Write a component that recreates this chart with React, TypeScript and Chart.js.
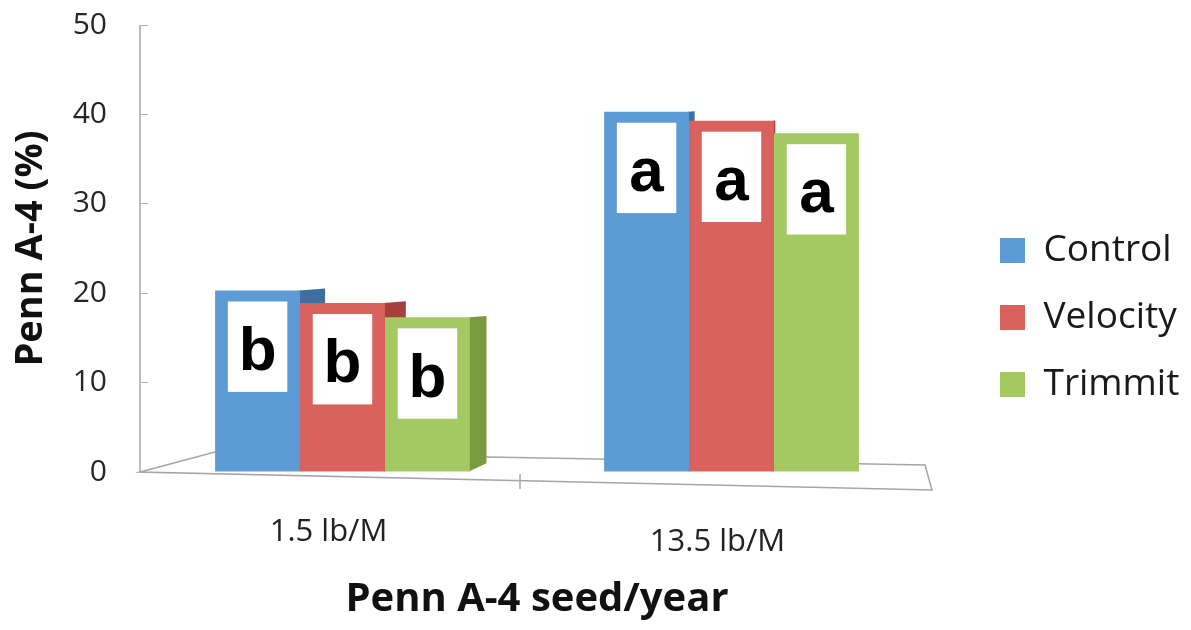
import React, { useEffect, useRef } from "react";
import { Chart, registerables } from "chart.js";

Chart.register(...registerables);

const categories = ["1.5 lb/M", "13.5 lb/M"];
const seriesNames = ["Control", "Velocity", "Trimmit"];
const controlValues = [20.3, 40.3];
const velocityValues = [18.9, 39.3];
const trimmitValues = [17.3, 37.9];
const controlLetters = ["b", "a"];
const velocityLetters = ["b", "a"];
const trimmitLetters = ["b", "a"];
const yMin = 0;
const yMax = 50;
const yStep = 10;
const xTitle = "Penn A-4 seed/year";
const yTitle = "Penn A-4 (%)";

const frontColors = ["#5D9BD5", "#D9625E", "#A4C862"];
const sideColors = ["#3F6FA0", "#A5403C", "#7A9A3E"];

const W = 1191;
const H = 630;

const depthPlugin = {
  id: "depth3d",
  beforeDatasetsDraw(chart: any) {
    const { ctx, chartArea: a, scales } = chart;
    const y = scales.y;
    const x = scales.x;
    const y0 = y.getPixelForValue(0);
    const yTop = y.getPixelForValue(yMax);
    ctx.save();
    ctx.strokeStyle = "#a6a6a6";
    ctx.lineWidth = 1.5;
    ctx.beginPath();
    ctx.moveTo(a.left - 8, yTop);
    ctx.lineTo(a.left - 8, y0);
    ctx.stroke();
    ctx.beginPath();
    ctx.moveTo(a.left - 8, y0);
    ctx.lineTo(a.left + 67, y0 - 20);
    ctx.lineTo(a.right - 1, y0 - 7);
    ctx.lineTo(a.right + 6, y0 + 18);
    ctx.closePath();
    ctx.stroke();
    const mx = (x.getPixelForValue(0) + x.getPixelForValue(1)) / 2 - 17;
    ctx.beginPath();
    ctx.moveTo(mx, y0 + 2);
    ctx.lineTo(mx, y0 + 17);
    ctx.stroke();
    const vp = a.left + 0.84 * (a.right - a.left);
    chart.data.datasets.forEach((ds: any, di: number) => {
      const meta = chart.getDatasetMeta(di);
      meta.data.forEach((bar: any) => {
        const xR = bar.x + bar.width / 2;
        const dx = (vp - xR) * 0.05;
        if (dx <= 0.5) return;
        ctx.fillStyle = sideColors[di];
        ctx.beginPath();
        ctx.moveTo(xR - 1, bar.y);
        ctx.lineTo(xR + dx, bar.y - dx * 0.08);
        ctx.lineTo(xR + dx, bar.base - dx * 0.5);
        ctx.lineTo(xR - 1, bar.base);
        ctx.closePath();
        ctx.fill();
      });
    });
    ctx.restore();
  },
  afterDatasetsDraw(chart: any) {
    const { ctx } = chart;
    const letters = [controlLetters, velocityLetters, trimmitLetters];
    ctx.save();
    chart.data.datasets.forEach((ds: any, di: number) => {
      const meta = chart.getDatasetMeta(di);
      meta.data.forEach((bar: any, i: number) => {
        const bw = bar.width * 0.7;
        const bh = bw * 1.52;
        const top = bar.y + 11;
        ctx.fillStyle = "#ffffff";
        ctx.fillRect(bar.x - bw / 2, top, bw, bh);
        ctx.fillStyle = "#000000";
        ctx.font = "bold 62px 'Liberation Sans', Arial, sans-serif";
        ctx.textAlign = "center";
        ctx.textBaseline = "alphabetic";
        ctx.fillText(letters[di][i], bar.x, top + bh / 2 + 23);
      });
    });
    ctx.restore();
  },
};

export default function App() {
  const ref = useRef<HTMLCanvasElement | null>(null);

  useEffect(() => {
    if (!ref.current) return;
    const legendFontSize = 37;
    const legendPad = 30;
    const legendBox = 25;
    const mctx = document.createElement("canvas").getContext("2d")!;
    mctx.font = `normal normal ${legendFontSize}px Open Sans`;
    const tw = Math.max(...seriesNames.map((s) => mctx.measureText(s).width));
    const legendWidth = legendPad + legendBox + legendFontSize / 2 + tw + 10;
    const legendLeft = 970;
    const padR = Math.max(0, W - legendLeft - legendWidth);

    const values = [controlValues, velocityValues, trimmitValues];
    const chart = new Chart(ref.current, {
      type: "bar",
      data: {
        labels: categories,
        datasets: seriesNames.map((name, i) => ({
          label: name,
          data: values[i],
          backgroundColor: frontColors[i],
          borderWidth: 0,
          barPercentage: 1,
          categoryPercentage: 0.655,
        })),
      },
      options: {
        responsive: false,
        animation: false,
        layout: { padding: { top: 25, right: padR, bottom: 20, left: 8 } },
        plugins: {
          tooltip: { enabled: false },
          legend: {
            display: true,
            position: "right",
            labels: {
              boxWidth: legendBox,
              boxHeight: legendBox,
              padding: legendPad,
              color: "#1a1a1a",
              font: { family: "Open Sans", size: legendFontSize },
            },
          },
        },
        scales: {
          x: {
            type: "category",
            position: "bottom",
            grid: { display: false, drawTicks: false },
            border: { display: false },
            ticks: {
              color: "#222222",
              padding: 42,
              labelOffset: -14,
              maxRotation: 0,
              font: (c: any) => ({
                family: "Open Sans",
                size: 31,
                lineHeight: c.index === 1 ? 1.82 : 1.2,
              }),
            },
            title: {
              display: true,
              text: xTitle,
              color: "#111111",
              font: { family: "Open Sans", size: 40, weight: "bold", lineHeight: 1.2 },
              padding: { top: 0, bottom: -14 },
            },
            afterFit: (s: any) => {
              s.height = H - 20 - 472;
              s.paddingLeft = 0;
              s.paddingRight = 0;
            },
          },
          y: {
            type: "linear",
            position: "left",
            min: yMin,
            max: yMax,
            ticks: {
              stepSize: yStep,
              color: "#262626",
              padding: 34,
              font: { family: "Open Sans", size: 30 },
            },
            grid: {
              display: true,
              drawOnChartArea: false,
              drawTicks: true,
              tickLength: 7,
              color: "#b0b0b0",
            },
            border: { display: false },
            title: {
              display: true,
              text: yTitle,
              color: "#111111",
              font: { family: "Open Sans", size: 38, weight: "bold", lineHeight: 1.2 },
              padding: { top: 0, bottom: 0 },
            },
            afterFit: (s: any) => {
              s.width = 140;
              s.paddingTop = 0;
              s.paddingBottom = 0;
            },
          },
          spacer: {
            type: "linear",
            position: "right",
            display: false,
            afterFit: (s: any) => {
              s.width = 44;
            },
          },
        },
      },
      plugins: [depthPlugin],
    } as any);
    return () => chart.destroy();
  }, []);

  return (
    <div style={{ position: "fixed", left: 0, top: 0, width: W, height: H, background: "#fff" }}>
      <canvas ref={ref} width={W} height={H} style={{ display: "block" }} />
    </div>
  );
}
